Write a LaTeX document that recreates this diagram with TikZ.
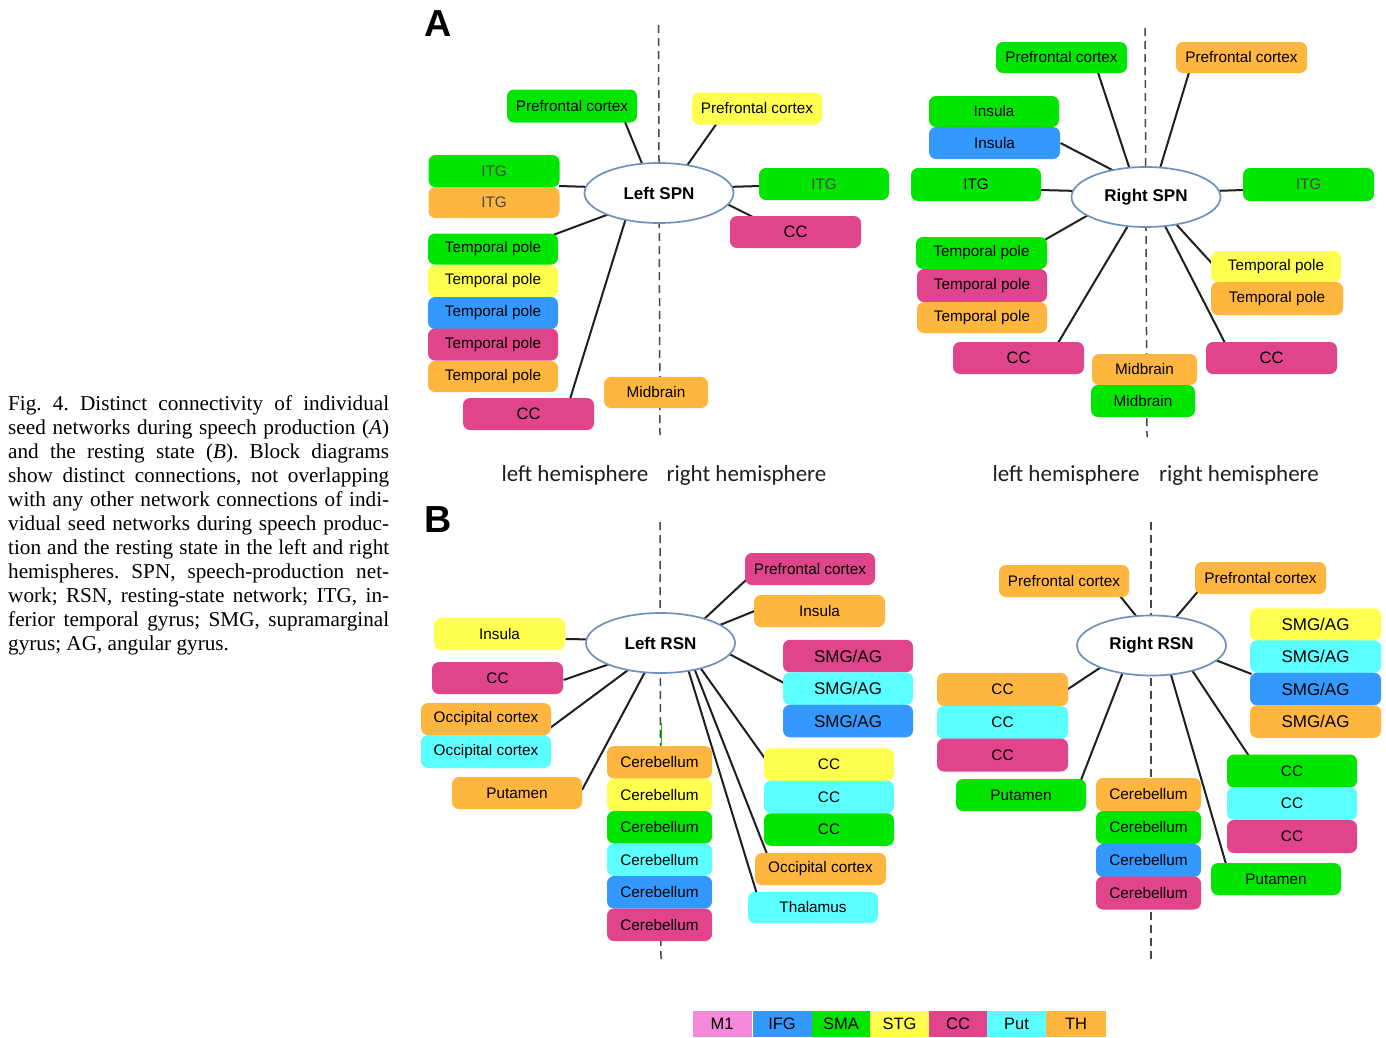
\documentclass[tikz,border=0pt]{standalone}
\usepackage{fontspec}
\setmainfont{Liberation Serif}
\newfontfamily\arial{Liberation Sans}
\newfontfamily\calib{Carlito}
\usetikzlibrary{shapes.geometric}
\pgfdeclarelayer{bg}
\pgfsetlayers{bg,main}
\definecolor{cG}{RGB}{0,230,0}
\definecolor{cO}{RGB}{255,182,62}
\definecolor{cY}{RGB}{255,255,80}
\definecolor{cB}{RGB}{51,153,255}
\definecolor{cM}{RGB}{224,68,138}
\definecolor{cC}{RGB}{92,255,255}
\definecolor{cP}{RGB}{245,136,216}
\definecolor{ellblue}{RGB}{110,145,190}
\newcommand\fntA{\arial\fontsize{15.3}{18}\selectfont}
\newcommand\fntB{\arial\fontsize{17}{20}\selectfont}
\newcommand\fntC{\arial\fontsize{16.5}{19}\selectfont}
\newcommand\fntE{\arial\bfseries\fontsize{17}{20}\selectfont}
\newcommand\fntH{\calib\fontsize{23}{26}\selectfont}
\newcommand\fntL{\arial\bfseries\fontsize{37.7}{40}\selectfont}
\newcommand\fntCap{\frenchspacing\fontsize{21.2}{24}\selectfont}
\tikzset{
  bx/.style={rounded corners=7pt, inner sep=0pt, minimum height=32pt, minimum width=130pt, font=\fntA, text=black},
  ell/.style={ellipse, draw=ellblue, line width=1.7pt, fill=white, inner sep=0pt, minimum width=149pt, minimum height=60pt, font=\fntE},
  cn/.style={line width=2pt, black!88},
  dsh/.style={line width=1.5pt, black!72, dash pattern=on 8pt off 5pt},
  lg/.style={inner sep=0pt, minimum height=26pt, minimum width=59pt, font=\fntC},
  hem/.style={anchor=base, inner sep=0pt, font=\fntH, text=black!88},
  capl/.style={anchor=base west, inner sep=0pt, font=\fntCap},
  gry/.style={text=black!72}
}
\begin{document}
\begin{tikzpicture}[x=1pt,y=-1pt]
\useasboundingbox (0,0) rectangle (1386,1037);

% ---------- caption ----------
\node[capl] (cap1) at (8,410.5) {\makebox[381pt][s]{Fig. 4. Distinct connectivity of individual}};
\node[capl] (cap2) at (8,434.5) {\makebox[381pt][s]{seed networks during speech production (\textit{A})}};
\node[capl] (cap3) at (8,458.5) {\makebox[381pt][s]{and the resting state (\textit{B}). Block diagrams}};
\node[capl] (cap4) at (8,482.5) {\makebox[381pt][s]{show distinct connections, not overlapping}};
\node[capl] (cap5) at (8,506.5) {\makebox[381pt][s]{with any other network connections of indi-}};
\node[capl] (cap6) at (8,530.5) {\makebox[381pt][s]{vidual seed networks during speech produc-}};
\node[capl] (cap7) at (8,554.5) {\makebox[381pt][s]{tion and the resting state in the left and right}};
\node[capl] (cap8) at (8,578.5) {\makebox[381pt][s]{hemispheres. SPN, speech-production net-}};
\node[capl] (cap9) at (8,602.5) {\makebox[381pt][s]{work; RSN, resting-state network; ITG, in-}};
\node[capl] (cap10) at (8,626.5) {\makebox[381pt][s]{ferior temporal gyrus; SMG, supramarginal}};
\node[capl] (cap11) at (8,650.5) {gyrus; AG, angular gyrus.};

% ---------- panel letters ----------
\node[anchor=base west, inner sep=0pt, font=\fntL] (lA) at (424,36) {A};
\node[anchor=base west, inner sep=0pt, font=\fntL] (lB) at (424,532) {B};

% ---------- hemisphere labels ----------
\node[hem] (h1) at (575,481) {left hemisphere};
\node[hem] (h2) at (746.5,481) {right hemisphere};
\node[hem] (h3) at (1066,481) {left hemisphere};
\node[hem] (h4) at (1239,481) {right hemisphere};

% ---------- Panel A left : Left SPN ----------
\node[bx,fill=cG,minimum height=33pt] (a1) at (572,106) {Prefrontal cortex};
\node[bx,fill=cY] (a2) at (757,108.5) {Prefrontal cortex};
\node[bx,fill=cG,minimum width=131pt,gry] (a3) at (494,171) {ITG};
\node[bx,fill=cO,minimum width=131pt,minimum height=31pt,gry] (a4) at (494,202.5) {ITG};
\node[bx,fill=cG,gry] (a5) at (824,184) {ITG};
\node[bx,fill=cM,minimum width=131pt,font=\fntC] (a6) at (795.5,232) {CC};
\node[bx,fill=cG,minimum height=31pt] (a7) at (493,249) {Temporal pole};
\node[bx,fill=cY] (a8) at (493,281) {Temporal pole};
\node[bx,fill=cB] (a9) at (493,313) {Temporal pole};
\node[bx,fill=cM] (a10) at (493,344.5) {Temporal pole};
\node[bx,fill=cO,minimum height=31pt] (a11) at (493,376.5) {Temporal pole};
\node[bx,fill=cM,minimum width=131pt,font=\fntC] (a12) at (528.5,414) {CC};
\node[bx,fill=cO,minimum width=104pt,minimum height=31pt] (a13) at (656,392.5) {Midbrain};
\node[ell] (lspn) at (659,193) {Left SPN};

% ---------- Panel A right : Right SPN ----------
\node[bx,fill=cG,minimum width=131pt,minimum height=31pt] (b1) at (1061.5,57.5) {Prefrontal cortex};
\node[bx,fill=cO,minimum width=131pt,minimum height=31pt] (b2) at (1241.5,57.5) {Prefrontal cortex};
\node[bx,fill=cG,minimum height=31pt] (b3) at (994,111.5) {Insula};
\node[bx,fill=cB,minimum width=131pt] (b4) at (994.5,143) {Insula};
\node[bx,fill=cG,minimum height=33pt] (b5) at (976,184.5) {ITG};
\node[bx,fill=cG,minimum width=131pt,minimum height=33pt,gry] (b6) at (1308.5,184.5) {ITG};
\node[bx,fill=cG,minimum width=131pt] (b7) at (981.5,253) {Temporal pole};
\node[bx,fill=cM,minimum height=33pt] (b8) at (982,285.5) {Temporal pole};
\node[bx,fill=cO,minimum height=31pt] (b9) at (982,317.5) {Temporal pole};
\node[bx,fill=cM,minimum width=131pt,font=\fntC] (b10) at (1018.5,358) {CC};
\node[bx,fill=cO,minimum width=105pt,minimum height=31pt] (b11) at (1144.5,369.5) {Midbrain};
\node[bx,fill=cG,minimum width=104pt] (b12) at (1143,401) {Midbrain};
\node[bx,fill=cY,minimum height=31pt] (b13) at (1276,266.5) {Temporal pole};
\node[bx,fill=cO,minimum width=132pt,minimum height=33pt] (b14) at (1277,298.5) {Temporal pole};
\node[bx,fill=cM,minimum width=131pt,font=\fntC] (b15) at (1271.5,358) {CC};
\node[ell] (rspn) at (1146,197) {Right SPN};

% ---------- Panel B left : Left RSN ----------
\node[bx,fill=cM] (c1) at (810,569) {Prefrontal cortex};
\node[bx,fill=cO,minimum width=131pt] (c2) at (819.5,611) {Insula};
\node[bx,fill=cY,minimum width=131pt] (c3) at (499.5,634) {Insula};
\node[bx,fill=cM,minimum width=131pt] (c4) at (497.5,678) {CC};
\node[bx,fill=cO] (c5) at (486,719) {Occipital cortex};
\node[bx,fill=cC,minimum height=33pt] (c6) at (486,751.5) {Occipital cortex};
\node[bx,fill=cO] (c7) at (517,793) {Putamen};
\node[bx,fill=cO,minimum width=105pt,minimum height=32.5pt] (c8) at (659.5,762.25) {Cerebellum};
\node[bx,fill=cY,minimum width=105pt,minimum height=32.5pt] (c9) at (659.5,794.75) {Cerebellum};
\node[bx,fill=cG,minimum width=105pt,minimum height=32.5pt] (c10) at (659.5,827.25) {Cerebellum};
\node[bx,fill=cC,minimum width=105pt,minimum height=32.5pt] (c11) at (659.5,859.75) {Cerebellum};
\node[bx,fill=cB,minimum width=105pt,minimum height=32.5pt] (c12) at (659.5,892.25) {Cerebellum};
\node[bx,fill=cM,minimum width=105pt,minimum height=32.5pt] (c13) at (659.5,924.75) {Cerebellum};
\node[bx,fill=cM,minimum height=32.5pt,font=\fntB] (c14) at (848,656) {SMG/AG};
\node[bx,fill=cC,minimum height=32.5pt,font=\fntB] (c15) at (848,688.5) {SMG/AG};
\node[bx,fill=cB,minimum height=32.5pt,font=\fntB] (c16) at (848,721) {SMG/AG};
\node[bx,fill=cY,minimum height=32.5pt] (c17) at (829,764.5) {CC};
\node[bx,fill=cC,minimum height=32.5pt] (c18) at (829,797) {CC};
\node[bx,fill=cG,minimum height=32.5pt] (c19) at (829,829.5) {CC};
\node[bx,fill=cO,minimum width=131pt] (c20) at (820.5,869) {Occipital cortex};
\node[bx,fill=cC,minimum height=31pt] (c21) at (813,907.5) {Thalamus};
\node[ell] (lrsn) at (660.5,643) {Left RSN};

% ---------- Panel B right : Right RSN ----------
\node[bx,fill=cO] (d1) at (1064,581) {Prefrontal cortex};
\node[bx,fill=cO,minimum width=131pt] (d2) at (1260.5,578) {Prefrontal cortex};
\node[bx,fill=cY,minimum width=131pt,minimum height=32.5pt,font=\fntB] (d3) at (1315.5,624.5) {SMG/AG};
\node[bx,fill=cC,minimum width=131pt,minimum height=32.5pt,font=\fntB] (d4) at (1315.5,656.5) {SMG/AG};
\node[bx,fill=cB,minimum width=131pt,minimum height=32.5pt,font=\fntB] (d5) at (1315.5,689) {SMG/AG};
\node[bx,fill=cO,minimum width=131pt,minimum height=32.5pt,font=\fntB] (d6) at (1315.5,721.5) {SMG/AG};
\node[bx,fill=cO,minimum width=131pt,minimum height=33pt] (d7) at (1002.5,689.5) {CC};
\node[bx,fill=cC,minimum width=131pt,minimum height=33pt] (d8) at (1002.5,722.5) {CC};
\node[bx,fill=cM,minimum width=131pt,minimum height=33pt] (d9) at (1002.5,755) {CC};
\node[bx,fill=cG] (d10) at (1021,795) {Putamen};
\node[bx,fill=cO,minimum width=105pt,minimum height=33pt] (d11) at (1148.5,794.5) {Cerebellum};
\node[bx,fill=cG,minimum width=105pt,minimum height=33pt] (d12) at (1148.5,827.5) {Cerebellum};
\node[bx,fill=cB,minimum width=105pt,minimum height=33pt] (d13) at (1148.5,860.5) {Cerebellum};
\node[bx,fill=cM,minimum width=105pt,minimum height=33pt] (d14) at (1148.5,893) {Cerebellum};
\node[bx,fill=cG,minimum height=33pt] (d15) at (1292,771) {CC};
\node[bx,fill=cC,minimum height=33pt] (d16) at (1292,803.5) {CC};
\node[bx,fill=cM,minimum height=33pt] (d17) at (1292,836.5) {CC};
\node[bx,fill=cG] (d18) at (1276,879) {Putamen};
\node[ell] (rrsn) at (1151.5,645.5) {Right RSN};

% ---------- legend ----------
\node[lg,fill=cP] (g1) at (722,1023.5) {M1};
\node[lg,fill=cB] (g2) at (782,1023.5) {IFG};
\node[lg,fill=cG,minimum width=58pt] (g3) at (841,1023.5) {SMA};
\node[lg,fill=cY] (g4) at (899.5,1023.5) {STG};
\node[lg,fill=cM,minimum width=58pt] (g5) at (958,1023.5) {CC};
\node[lg,fill=cC] (g6) at (1016.5,1023.5) {Put};
\node[lg,fill=cO,minimum width=60pt] (g7) at (1076,1023.5) {TH};

% ---------- background: midlines and connectors ----------
\begin{pgfonlayer}{bg}
\fill[white] (0,0) rectangle (1386,1037);
\draw[dsh] (658.5,25) -- (660,435);
\draw[dsh] (1145,28) -- (1147,437);
\draw[dsh] (660,522) -- (661,960);
\draw[dsh] (1151,522) -- (1151,960);
\draw[line width=1.6pt, green!80!black] (661.5,723) -- (661.5,745);

% Left SPN
\draw[cn] ([shift={(-16,-27)}]lspn.center) -- ([shift={(53,16)}]a1.center);
\draw[cn] ([shift={(27,-26)}]lspn.center) -- ([shift={(-41,16)}]a2.center);
\draw[cn] ([shift={(-67,-6)}]lspn.center) -- ([shift={(65,15)}]a3.center);
\draw[cn] ([shift={(67,-6)}]lspn.center) -- ([shift={(-64,2)}]a5.center);
\draw[cn] ([shift={(64,9)}]lspn.center) -- ([shift={(-42.5,-15)}]a6.center);
\draw[cn] ([shift={(-47,20)}]lspn.center) -- ([shift={(60,-14)}]a7.center);
\draw[cn] ([shift={(-33,25)}]lspn.center) -- ([shift={(41.5,-15)}]a12.center);

% Right SPN
\draw[cn] ([shift={(-16,-27)}]rspn.center) -- ([shift={(36.5,15)}]b1.center);
\draw[cn] ([shift={(13.5,-27)}]rspn.center) -- ([shift={(-52.5,15)}]b2.center);
\draw[cn] ([shift={(-26,-23)}]rspn.center) -- ([shift={(66,0)}]b4.center);
\draw[cn] ([shift={(-67,-6)}]rspn.center) -- ([shift={(64,5.5)}]b5.center);
\draw[cn] ([shift={(67,-6)}]rspn.center) -- ([shift={(-65,5.5)}]b6.center);
\draw[cn] ([shift={(-56,17)}]rspn.center) -- ([shift={(63,-13)}]b7.center);
\draw[cn] ([shift={(-17,27)}]rspn.center) -- ([shift={(39.5,-15)}]b10.center);
\draw[cn] ([shift={(18,27)}]rspn.center) -- ([shift={(-46.5,-15)}]b15.center);
\draw[cn] ([shift={(29,26)}]rspn.center) -- ([shift={(-64,-3)}]b13.center);

% Left RSN
\draw[cn] ([shift={(42,-22.5)}]lrsn.center) -- ([shift={(-64,11)}]c1.center);
\draw[cn] ([shift={(57,-17)}]lrsn.center) -- ([shift={(-65,0)}]c2.center);
\draw[cn] ([shift={(-66,-3.5)}]lrsn.center) -- ([shift={(66,5)}]c3.center);
\draw[cn] ([shift={(-48,20)}]lrsn.center) -- ([shift={(66,2)}]c4.center);
\draw[cn] ([shift={(-31,26)}]lrsn.center) -- ([shift={(64,9)}]c5.center);
\draw[cn] ([shift={(-15,28)}]lrsn.center) -- ([shift={(65,-3)}]c7.center);
\draw[cn] ([shift={(65,9)}]lrsn.center) -- ([shift={(-64,-5.5)}]c15.center);
\draw[cn] ([shift={(40,25)}]lrsn.center) -- ([shift={(-63,-4.5)}]c17.center);
\draw[cn] ([shift={(34,26)}]lrsn.center) -- ([shift={(-53.5,-15)}]c20.center);
\draw[cn] ([shift={(27.5,26)}]lrsn.center) -- ([shift={(-55,-10)}]c21.center);

% Right RSN
\draw[cn] ([shift={(-13,-26.5)}]rrsn.center) -- ([shift={(56,15)}]d1.center);
\draw[cn] ([shift={(23,-26.5)}]rrsn.center) -- ([shift={(-63,14)}]d2.center);
\draw[cn] ([shift={(60,13)}]rrsn.center) -- ([shift={(-64,-15)}]d5.center);
\draw[cn] ([shift={(-48,20)}]rrsn.center) -- ([shift={(64,0.5)}]d7.center);
\draw[cn] ([shift={(-28,25)}]rrsn.center) -- ([shift={(60,-15)}]d10.center);
\draw[cn] ([shift={(18.5,26)}]rrsn.center) -- ([shift={(-50,-15)}]d18.center);
\draw[cn] ([shift={(40,24)}]rrsn.center) -- ([shift={(-43,-15)}]d15.center);
\end{pgfonlayer}
\end{tikzpicture}
\end{document}
